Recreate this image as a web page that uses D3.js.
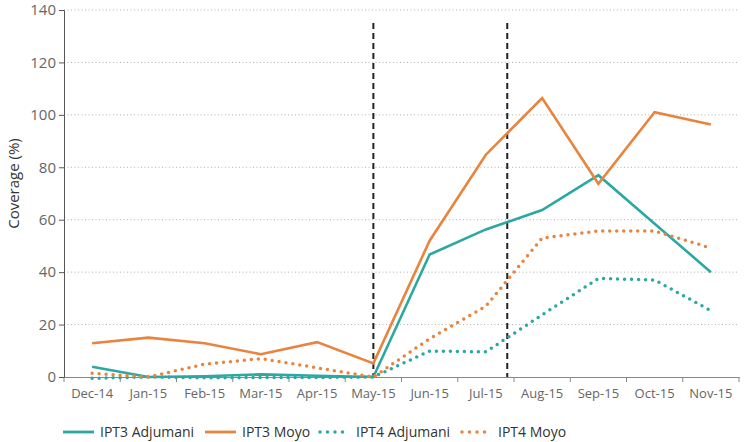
<!DOCTYPE html>
<html>
<head>
<meta charset="utf-8">
<script src="https://cdn.jsdelivr.net/npm/d3@7"></script>
<style>
  body { margin: 0; background: #fff; }
  text { font-family: "Open Sans", "Noto Sans", sans-serif; }
</style>
</head>
<body>
<svg class="chart"></svg>
<script>
// -------------------- Data --------------------
var months = ["Dec-14", "Jan-15", "Feb-15", "Mar-15", "Apr-15", "May-15",
              "Jun-15", "Jul-15", "Aug-15", "Sep-15", "Oct-15", "Nov-15"];
var ipt3Adjumani = [3.9, 0, 0.3, 1, 0.5, 0, 46.7, 56.3, 63.7, 77, 58.5, 40];
var ipt3Moyo     = [12.9, 15, 12.9, 8.7, 13.3, 5.2, 52, 84.8, 106.4, 73.7, 101, 96.3];
var ipt4Adjumani = [-0.5, 0, -0.3, -0.2, -0.2, 0, 9.9, 9.6, 23.7, 37.6, 37, 25.3];
var ipt4Moyo     = [1.4, 0, 4.9, 7, 3.5, 0, 14.6, 27, 53, 55.7, 55.7, 49.2];
var yTicks = [0, 20, 40, 60, 80, 100, 120, 140];
// vertical markers: [month, fraction across that month's band]
var markers = [["May-15", 0.5], ["Jul-15", 0.88]];

var series = [
  {name: "IPT3 Adjumani", values: ipt3Adjumani, color: "#2ba8a2", dotted: false},
  {name: "IPT3 Moyo",     values: ipt3Moyo,     color: "#e8843e", dotted: false},
  {name: "IPT4 Adjumani", values: ipt4Adjumani, color: "#2ba8a2", dotted: true},
  {name: "IPT4 Moyo",     values: ipt4Moyo,     color: "#e8843e", dotted: true}
];

// -------------------- Settings --------------------
var W = 745, H = 442;
var margin = {top: 10, right: 6, bottom: 65, left: 64}
  , width = W - margin.left - margin.right
  , height = H - margin.top - margin.bottom;

var svg = d3.select(".chart").attr("width", W).attr("height", H);
var chart = svg.append("g")
  .attr("transform", "translate(" + margin.left + "," + margin.top + ")");

// -------------------- Scales --------------------
var x = d3.scaleBand().domain(months).range([0, width]);
var y = d3.scaleLinear().domain([0, 140]).range([height, 0]);
function cx(m) { return x(m) + x.bandwidth() / 2; }

// -------------------- Grid --------------------
chart.selectAll(".grid").data(yTicks.slice(1)).enter()
  .append("line")
    .attr("x1", 0).attr("x2", width)
    .attr("y1", function(d) { return y(d); })
    .attr("y2", function(d) { return y(d); })
    .attr("stroke", "#b0b0b0")
    .attr("stroke-width", 1)
    .attr("stroke-dasharray", "1,2.5");

// -------------------- Axes --------------------
var xAxis = d3.axisBottom(x).tickSize(0).tickPadding(12);
var xg = chart.append("g")
  .attr("transform", "translate(0," + height + ")")
  .call(xAxis);
xg.select(".domain").attr("stroke", "#888");
xg.selectAll("text").attr("fill", "#666").style("font-size", "13px");
// tick marks at band boundaries
xg.selectAll(".bound").data(months.concat(["end"])).enter()
  .append("line")
    .attr("x1", function(d, i) { return i * x.step(); })
    .attr("x2", function(d, i) { return i * x.step(); })
    .attr("y1", 0).attr("y2", 5)
    .attr("stroke", "#888");

var yAxis = d3.axisLeft(y).tickValues(yTicks).tickSize(5).tickPadding(3);
var yg = chart.append("g").call(yAxis);
yg.select(".domain").attr("stroke", "#555");
yg.selectAll(".tick line").attr("stroke", "#555");
yg.selectAll("text").attr("fill", "#666").style("font-size", "15px");

chart.append("text")
  .attr("transform", "rotate(-90)")
  .attr("x", -height / 2 + 10)
  .attr("y", -margin.left + 19)
  .attr("text-anchor", "middle")
  .attr("fill", "#333")
  .style("font-size", "15px")
  .text("Coverage (%)");

// -------------------- Markers --------------------
chart.selectAll(".marker").data(markers).enter()
  .append("line")
    .attr("x1", function(d) { return x(d[0]) + x.bandwidth() * d[1]; })
    .attr("x2", function(d) { return x(d[0]) + x.bandwidth() * d[1]; })
    .attr("y1", y(135)).attr("y2", y(0))
    .attr("stroke", "#222")
    .attr("stroke-width", 2)
    .attr("stroke-dasharray", "6,4");

// -------------------- Lines --------------------
var line = d3.line()
  .x(function(d, i) { return cx(months[i]); })
  .y(function(d) { return y(d); });

chart.selectAll(".series").data(series).enter()
  .append("path")
    .attr("fill", "none")
    .attr("stroke", function(d) { return d.color; })
    .attr("stroke-width", function(d) { return d.dotted ? 3.5 : 2.6; })
    .attr("stroke-linecap", function(d) { return d.dotted ? "round" : "butt"; })
    .attr("stroke-dasharray", function(d) { return d.dotted ? "0,7" : null; })
    .attr("d", function(d) { return line(d.values); });

// -------------------- Legend --------------------
var legendX = [63, 205, 320, 462];
var leg = svg.selectAll(".legend").data(series).enter()
  .append("g")
    .attr("transform", function(d, i) { return "translate(" + legendX[i] + ",432)"; });
leg.append("line")
  .attr("x1", 0).attr("x2", function(d) { return d.dotted ? 30 : 31; })
  .attr("y1", 0).attr("y2", 0)
  .attr("stroke", function(d) { return d.color; })
  .attr("stroke-width", function(d) { return d.dotted ? 3.5 : 2.8; })
  .attr("stroke-linecap", function(d) { return d.dotted ? "round" : "butt"; })
  .attr("stroke-dasharray", function(d) { return d.dotted ? "0,7.5" : null; });
leg.append("text")
  .attr("x", function(d) { return d.dotted ? 36 : 37; })
  .attr("y", 5)
  .attr("fill", "#333")
  .style("font-size", "14px")
  .text(function(d) { return d.name; });
</script>
</body>
</html>
